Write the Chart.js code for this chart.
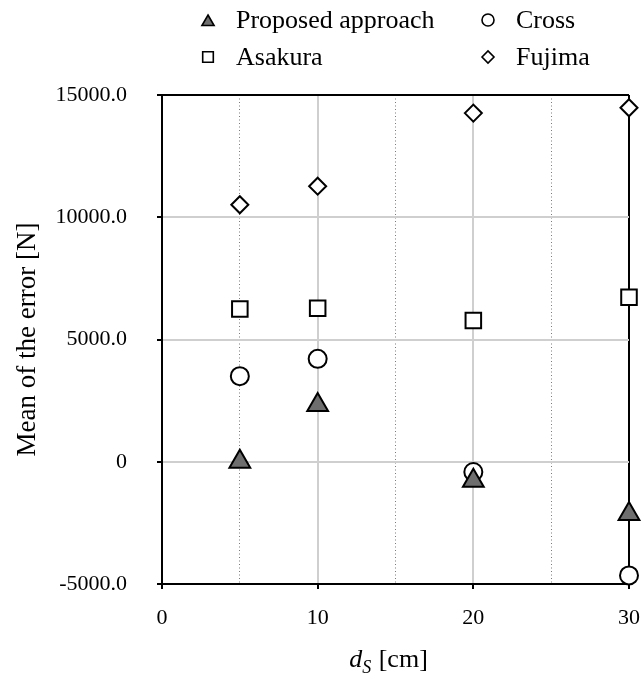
<!DOCTYPE html>
<html>
<head>
<meta charset="utf-8">
<script src="https://cdn.jsdelivr.net/npm/chart.js@4/dist/chart.umd.min.js"></script>
<style>
  html, body { margin: 0; padding: 0; background: #fff; }
  #wrap { width: 643px; height: 679px; }
</style>
</head>
<body>
<div id="wrap"><canvas id="c" width="643" height="679"></canvas></div>
<script>
// ---- data ----
const xValues = [5, 10, 20, 30];
const proposed = [0, 2320, -780, -2140];
const cross = [3500, 4210, -420, -4650];
const asakura = [6250, 6280, 5780, 6730];
const fujima = [10510, 11270, 14260, 14480];
const seriesNames = ['Proposed approach', 'Cross', 'Asakura', 'Fujima'];
const xTickValues = [0, 10, 20, 30];
const xTickLabels = ['0', '10', '20', '30'];
const yTickValues = [-5000, 0, 5000, 10000, 15000];
const yTickLabels = ['-5000.0', '0', '5000.0', '10000.0', '15000.0'];
const yTitle = 'Mean of the error [N]';
const xTitleMain = 'd';
const xTitleSub = 'S';
const xTitleUnit = ' [cm]';

const SERIF = '"Liberation Serif", "Times New Roman", serif';

function pts(ys) { return xValues.map((x, i) => ({ x: x, y: ys[i] })); }

const styles = [
  { pointStyle: 'triangle', radius: 12, bg: '#6e6e6e', lr: 7 },
  { pointStyle: 'circle', radius: 9, bg: '#ffffff', lr: 6 },
  { pointStyle: 'rect', radius: 11, bg: '#ffffff', lr: 7.5 },
  { pointStyle: 'rectRot', radius: 8.5, bg: '#ffffff', lr: 6 }
];
const seriesData = [proposed, cross, asakura, fujima];

const datasets = seriesNames.map((name, i) => ({
  label: name,
  data: pts(seriesData[i]),
  pointStyle: styles[i].pointStyle,
  pointRadius: styles[i].radius,
  pointHoverRadius: styles[i].radius,
  pointBackgroundColor: styles[i].bg,
  pointBorderColor: '#000',
  pointBorderWidth: 2,
  showLine: false,
  clip: false
}));

function drawMarker(ctx, style, r, x, y, bg, lw) {
  ctx.save();
  ctx.fillStyle = bg;
  ctx.strokeStyle = '#000';
  ctx.lineWidth = lw;
  if (Chart.helpers && Chart.helpers.drawPoint) {
    Chart.helpers.drawPoint(ctx, { pointStyle: style, radius: r, rotation: 0, borderWidth: lw }, x, y);
  } else {
    ctx.beginPath();
    ctx.arc(x, y, r, 0, Math.PI * 2);
    ctx.fill(); ctx.stroke();
  }
  ctx.restore();
}

const customPlugin = {
  id: 'custom',
  afterDraw(chart) {
    const ctx = chart.ctx;
    // legend (2 columns)
    const cols = [208, 488];
    const textCols = [236, 516];
    const rows = [20, 57];
    ctx.save();
    ctx.font = '26px ' + SERIF;
    ctx.fillStyle = '#000';
    ctx.textBaseline = 'middle';
    ctx.textAlign = 'left';
    seriesNames.forEach((name, i) => {
      const c = i % 2, r = Math.floor(i / 2);
      const my = rows[r] + (styles[i].pointStyle === 'triangle' ? 2 : 0);
      drawMarker(ctx, styles[i].pointStyle, styles[i].lr, cols[c], my, styles[i].bg, 1.6);
      ctx.fillText(name, textCols[c], rows[r] + 1);
    });
    ctx.restore();

    // x title with italic subscript
    const xs = chart.scales.x;
    const base = 667;
    ctx.save();
    ctx.fillStyle = '#000';
    ctx.textBaseline = 'alphabetic';
    ctx.textAlign = 'left';
    const fMain = 'italic 26px ' + SERIF;
    const fSub = 'italic 18px ' + SERIF;
    const fUnit = '26px ' + SERIF;
    ctx.font = fMain; const w1 = ctx.measureText(xTitleMain).width;
    ctx.font = fSub; const w2 = ctx.measureText(xTitleSub).width;
    ctx.font = fUnit; const w3 = ctx.measureText(xTitleUnit).width;
    const total = w1 + w2 + 1 + w3;
    let x0 = (xs.left + xs.right) / 2 - total / 2 - 7;
    ctx.font = fMain; ctx.fillText(xTitleMain, x0, base);
    ctx.font = fSub; ctx.fillText(xTitleSub, x0 + w1, base + 6);
    ctx.font = fUnit; ctx.fillText(xTitleUnit, x0 + w1 + w2 + 1, base);
    ctx.restore();
  }
};

function isMinorX(v) { return xTickValues.indexOf(v) < 0; }

new Chart(document.getElementById('c'), {
  type: 'scatter',
  data: { datasets: datasets },
  plugins: [customPlugin],
  options: {
    responsive: false,
    animation: false,
    devicePixelRatio: 1,
    layout: { padding: { top: 95, right: 14, left: 0, bottom: 0 } },
    plugins: { legend: { display: false }, tooltip: { enabled: false } },
    scales: {
      x: {
        type: 'linear',
        min: 0, max: 30,
        afterFit: s => { s.height = 95; s.paddingRight = 0; s.paddingLeft = 0; },
        afterBuildTicks: s => { s.ticks = [0, 5, 10, 15, 20, 25, 30].map(v => ({ value: v })); },
        ticks: {
          autoSkip: false, maxRotation: 0, padding: 16,
          color: '#000',
          font: { family: SERIF, size: 22 },
          callback: v => { const k = xTickValues.indexOf(v); return k >= 0 ? xTickLabels[k] : ''; }
        },
        grid: {
          color: c => {
            const v = c.tick ? c.tick.value : null;
            if (v === 30) return '#000';
            if (v === 0) return '#000';
            if (isMinorX(v)) return '#7a7a7a';
            return '#cfcfcf';
          },
          lineWidth: c => {
            const v = c.tick ? c.tick.value : null;
            if (v === 30 || v === 0) return 2;
            if (isMinorX(v)) return 1;
            return 2;
          },
          tickLength: 5,
          tickColor: c => (c.tick && !isMinorX(c.tick.value)) ? '#000' : 'rgba(0,0,0,0)',
          tickWidth: 2
        },
        border: {
          color: '#000', width: 2,
          dash: c => (c.tick && isMinorX(c.tick.value)) ? [1, 2.5] : []
        },
        title: { display: false }
      },
      y: {
        type: 'linear',
        min: -5000, max: 15000,
        afterFit: s => { s.width = 162; },
        afterBuildTicks: s => { s.ticks = yTickValues.map(v => ({ value: v })); },
        ticks: {
          autoSkip: false, padding: 30,
          color: '#000',
          font: { family: SERIF, size: 22 },
          callback: v => { const k = yTickValues.indexOf(v); return k >= 0 ? yTickLabels[k] : ''; }
        },
        grid: {
          color: c => {
            const v = c.tick ? c.tick.value : null;
            if (v === 15000 || v === -5000) return '#000';
            return '#cfcfcf';
          },
          lineWidth: 2,
          tickLength: 5,
          tickColor: '#000',
          tickWidth: 2
        },
        border: { color: '#000', width: 2 },
        title: {
          display: true,
          text: yTitle,
          color: '#000',
          font: { family: SERIF, size: 27 },
          padding: { top: 12, bottom: 0 }
        }
      }
    }
  }
});
</script>
</body>
</html>
